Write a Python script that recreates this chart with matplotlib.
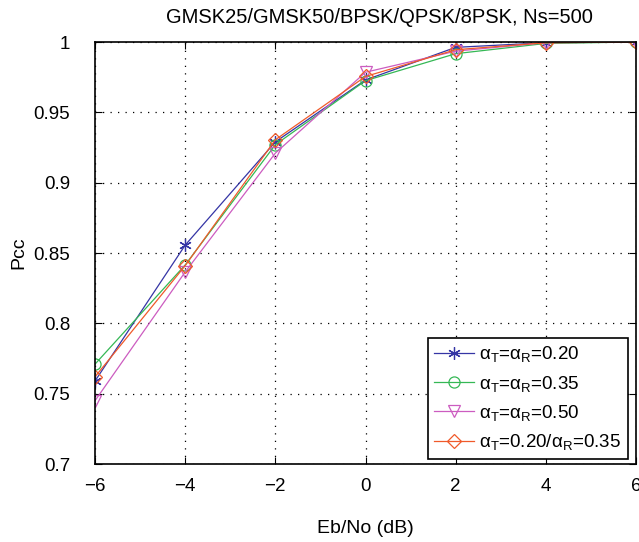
import matplotlib
matplotlib.use("Agg")
import matplotlib.pyplot as plt

plt.rcParams['font.family'] = ['Liberation Sans', 'DejaVu Sans']
plt.rcParams['mathtext.fontset'] = 'custom'
plt.rcParams['mathtext.rm'] = 'Liberation Sans'
plt.rcParams['mathtext.it'] = 'Liberation Sans'

ebno = [-6, -4, -2, 0, 2, 4, 6]
pcc_020 = [0.759, 0.8556, 0.929, 0.973, 0.9962, 0.9995, 1.0]
pcc_035 = [0.771, 0.8415, 0.927, 0.9725, 0.9917, 0.999, 1.0]
pcc_050 = [0.745, 0.8365, 0.921, 0.9785, 0.9935, 0.9995, 1.0]
pcc_mix = [0.762, 0.841, 0.9305, 0.9755, 0.9945, 0.9995, 1.0]

labels = [u'\u03b1$_{\\mathrm{T}}$=\u03b1$_{\\mathrm{R}}$=0.20',
          u'\u03b1$_{\\mathrm{T}}$=\u03b1$_{\\mathrm{R}}$=0.35',
          u'\u03b1$_{\\mathrm{T}}$=\u03b1$_{\\mathrm{R}}$=0.50',
          u'\u03b1$_{\\mathrm{T}}$=0.20/\u03b1$_{\\mathrm{R}}$=0.35']
colors = ['#3535a5', '#35b855', '#cc5cc0', '#f05a2a']
markers = [(6, 2, 0), 'o', 'v', 'D']
msizes = [9, 8, 8, 7]

fig = plt.figure(figsize=(6.39, 5.42), dpi=100)
ax = fig.add_axes([0.1487, 0.1439, 0.8466, 0.7786])

for ys, lab, c, m, ms in zip([pcc_020, pcc_035, pcc_050, pcc_mix], labels, colors, markers, msizes):
    ax.plot(ebno, ys, color=c, marker=m, markersize=ms, fillstyle='none',
            markeredgewidth=0.9, linewidth=0.9, label=lab)

ax.set_xlim(-6, 6)
ax.set_ylim(0.7, 1.0)
ax.set_xticks([-6, -4, -2, 0, 2, 4, 6])
ax.set_xticklabels([u'\u22126', u'\u22124', u'\u22122', '0', '2', '4', '6'])
ax.set_yticks([0.7, 0.75, 0.8, 0.85, 0.9, 0.95, 1.0])
ax.set_yticklabels(['0.7', '0.75', '0.8', '0.85', '0.9', '0.95', '1'])
ax.grid(True, color='black', linestyle=(0, (1, 5)), linewidth=0.9)
ax.tick_params(direction='in', labelsize=13.5, length=5, top=True, right=True)
ax.tick_params(axis='y', pad=18)
ax.tick_params(axis='x', pad=10)
for s in ax.spines.values():
    s.set_linewidth(1.2)

ax.set_xlabel('Eb/No (dB)', fontsize=14, labelpad=18)
ax.set_ylabel('Pcc', fontsize=14)
ax.yaxis.set_label_coords(-0.125, 0.5)
ax.set_title('GMSK25/GMSK50/BPSK/QPSK/8PSK, Ns=500', fontsize=14.5, pad=14, x=0.525)

leg = ax.legend(loc='lower right', bbox_to_anchor=(0.985, 0.012), fontsize=13.5,
                fancybox=False, framealpha=1, edgecolor='black',
                handlelength=2.1, borderpad=0.35, labelspacing=0.5,
                handletextpad=0.3, borderaxespad=0)
leg.get_frame().set_linewidth(1.2)

fig.savefig('out.png', dpi=100)
